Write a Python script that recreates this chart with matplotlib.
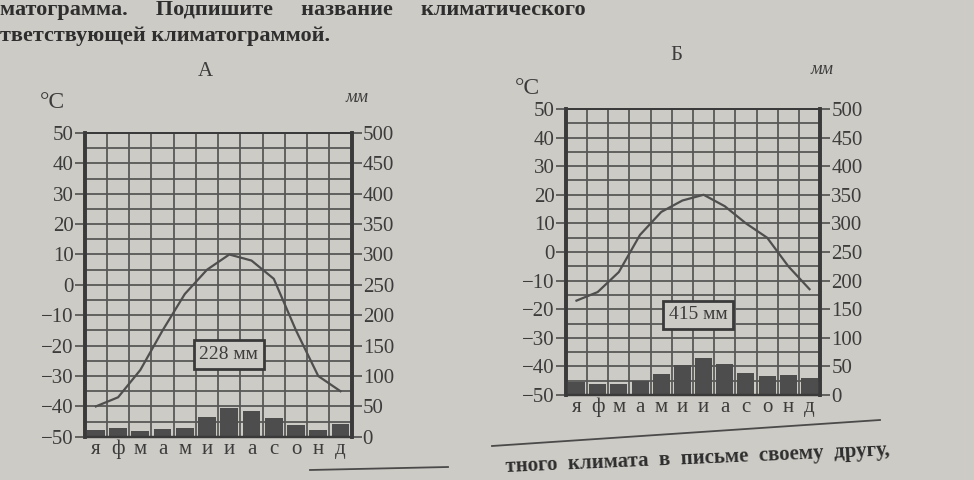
import numpy as np
import matplotlib.pyplot as plt
from matplotlib.lines import Line2D

plt.rcParams['font.family'] = ['Liberation Serif', 'DejaVu Serif']

months = ['я', 'ф', 'м', 'а', 'м', 'и', 'и', 'а', 'с', 'о', 'н', 'д']

# климатограмма А
temp_a = [-40, -37, -28, -15, -3, 5, 10, 8, 2, -15, -30, -35]
precip_a = [11, 14, 10, 13, 15, 33, 48, 42, 31, 19, 12, 21]
total_a = '228 мм'

# климатограмма Б
temp_b = [-17, -14, -7, 6, 14, 18, 20, 16, 10, 5, -5, -13]
precip_b = [23, 19, 19, 25, 37, 52, 65, 55, 39, 33, 35, 29]
total_b = '415 мм'

t_ticks = list(range(-50, 51, 10))
p_ticks = list(range(0, 501, 50))

paper = '#cdcbc5'
ink = '#3c3c3c'
grid_c = '#585858'


def climatogram(rect, temps, precs, total, box_pos, letter, letter_xy, c_xy, mm_xy):
    ax = fig.add_axes(rect)
    ax2 = ax.twinx()
    x = np.arange(1, 13)

    ax2.set_ylim(0, 500)
    ax2.set_yticks(p_ticks)
    ax2.set_yticks(range(0, 501, 25), minor=True)
    ax2.set_axisbelow(True)
    ax2.grid(which='both', axis='y', color=grid_c, lw=1.3)
    # границы месяцев
    ax2.vlines(np.arange(1.5, 12.5, 1), 0, 500, color=grid_c, lw=1.3, zorder=1)
    ax2.bar(x, precs, width=0.8, color='#4d4d4d', zorder=2)
    ax2.tick_params(axis='y', which='major', direction='out', length=7, width=1.3,
                    color=grid_c, labelsize=15, labelcolor=ink, pad=1)
    ax2.tick_params(axis='y', which='minor', length=0)

    ax.set_zorder(ax2.get_zorder() + 1)
    ax.patch.set_visible(False)
    ax.plot(x, temps, color='#4f4f4f', lw=1.6)
    ax.set_xlim(0.5, 12.5)
    ax.set_ylim(-50, 50)
    ax.set_yticks(t_ticks)
    ax.set_yticklabels([str(t).replace('-', '−') for t in t_ticks])
    ax.set_xticks(x)
    ax.set_xticklabels(months)
    ax.tick_params(axis='y', direction='out', length=7, width=1.3, color=grid_c,
                   labelsize=15, labelcolor=ink, pad=1)
    ax.tick_params(axis='x', length=0, labelsize=15, labelcolor=ink, pad=2)

    for a in (ax, ax2):
        for s in a.spines.values():
            s.set_color('#3a3a3a')
        a.spines['left'].set_linewidth(2.6)
        a.spines['right'].set_linewidth(2.6)
        a.spines['top'].set_linewidth(1.3)
        a.spines['bottom'].set_linewidth(1.6)

    ax.text(box_pos[0], box_pos[1], total, transform=ax.transAxes, ha='center', va='center',
            fontsize=14, color=ink, zorder=5,
            bbox=dict(boxstyle='square,pad=0.3', fc=paper, ec='#3a3a3a', lw=2))

    fig.text(letter_xy[0] / 974, 1 - letter_xy[1] / 480, letter, ha='center', va='center',
             fontsize=15, color=ink)
    fig.text(c_xy[0] / 974, 1 - c_xy[1] / 480, '°C', ha='center', va='center',
             fontsize=17, color=ink)
    fig.text(mm_xy[0] / 974, 1 - mm_xy[1] / 480, 'мм', ha='center', va='center',
             fontsize=13, style='italic', color=ink)


fig = plt.figure(figsize=(9.74, 4.8), dpi=100, facecolor=paper)

climatogram([0.087, 0.09, 0.274, 0.633], temp_a, precip_a, total_a, (0.54, 0.27),
            'А', (205, 72), (52, 103), (357, 97))
climatogram([0.581, 0.177, 0.261, 0.596], temp_b, precip_b, total_b, (0.52, 0.28),
            'Б', (676, 55), (527, 88), (822, 70))

fig.text(0.0, 1 - 10 / 480, 'матограмма.     Подпишите     название     климатического',
         fontsize=16, weight='bold', color='#2e2e2e', va='center', ha='left')
fig.text(0.0, 1 - 36 / 480, 'тветствующей климатограммой.',
         fontsize=16, weight='bold', color='#2e2e2e', va='center', ha='left')
fig.text(505 / 974, 1 - 459 / 480, 'тного  климата  в  письме  своему  другу,',
         fontsize=15, weight='bold', color='#2e2e2e', va='center', ha='left', rotation=2.5)

fig.add_artist(Line2D([310 / 974, 448 / 974], [1 - 470 / 480, 1 - 467 / 480],
                      color='#4a4a4a', lw=1.3))
fig.add_artist(Line2D([492 / 974, 880 / 974], [1 - 446 / 480, 1 - 420 / 480],
                      color='#4a4a4a', lw=1.3))

fig.savefig('out.png', dpi=100, facecolor=paper)
